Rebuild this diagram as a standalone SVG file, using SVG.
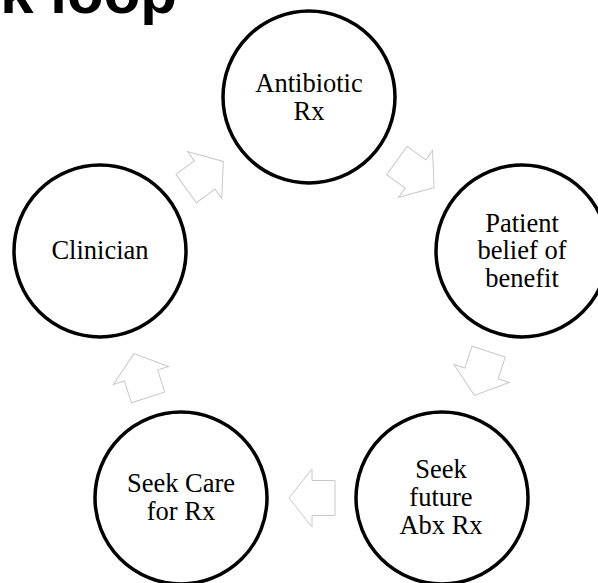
<svg xmlns="http://www.w3.org/2000/svg" width="598" height="583" viewBox="0 0 598 583">
<style>
.node circle{fill:#fff;stroke:#000;stroke-width:3.5}
.node text{font-family:"Liberation Serif","Times New Roman",serif;font-size:26.5px;fill:#000;text-anchor:middle}
.arr{fill:#fff;stroke:#c8c8c8;stroke-width:1}
.title{font-family:"Liberation Sans",Arial,sans-serif;font-weight:bold;font-size:60px;fill:#000}
</style>
<defs>
<polygon id="ba" points="-23,-17.5 0,-17.5 0,-29 23,0 0,29 0,17.5 -23,17.5"/>
</defs>
<rect width="598" height="583" fill="#fff"/>
<text class="title" x="177" y="13" text-anchor="end">k loop</text>
<g id="connectors">
<use href="#ba" class="arr" transform="translate(204.7,175) rotate(-36)"/>
<use href="#ba" class="arr" transform="translate(415.5,174) rotate(36)"/>
<use href="#ba" class="arr" transform="translate(481.5,373.5) rotate(108)"/>
<use href="#ba" class="arr" transform="translate(312,498) rotate(180)"/>
<use href="#ba" class="arr" transform="translate(141,375.5) rotate(252)"/>
</g>
<g id="antibiotic" class="node">
<circle cx="309" cy="97" r="86"/>
<text x="309" y="92">Antibiotic</text>
<text x="309" y="120">Rx</text>
</g>
<g id="patient" class="node">
<circle cx="522" cy="251" r="86"/>
<text x="522" y="231.5">Patient</text>
<text x="522" y="259">belief of</text>
<text x="522" y="286.5">benefit</text>
</g>
<g id="seekfuture" class="node">
<circle cx="442" cy="498" r="86"/>
<text x="441" y="478">Seek</text>
<text x="441" y="506">future</text>
<text x="441" y="534">Abx Rx</text>
</g>
<g id="seekcare" class="node">
<circle cx="181" cy="498" r="86"/>
<text x="181" y="492">Seek Care</text>
<text x="181" y="520">for Rx</text>
</g>
<g id="clinician" class="node">
<circle cx="100" cy="251" r="86"/>
<text x="100" y="259">Clinician</text>
</g>
</svg>
